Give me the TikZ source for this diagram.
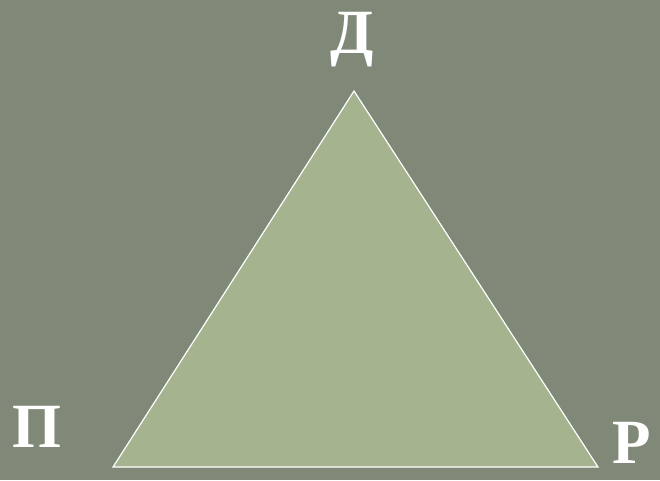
\documentclass[tikz,border=0pt]{standalone}
\usepackage{fontspec}
\setmainfont{Liberation Serif}
\usetikzlibrary{positioning}
\definecolor{boardgray}{HTML}{808878}
\definecolor{leafgreen}{HTML}{A5B48F}
\tikzset{
  vertexlabel/.style={text=white,font=\bfseries\fontsize{63}{63}\selectfont,inner sep=0pt,anchor=base}
}

\begin{document}
\begin{tikzpicture}[x=1pt,y=-1pt,line width=1.2pt]
\fill[boardgray] (0,0) rectangle (660,480);
\useasboundingbox (0,0) rectangle (660,480);
\coordinate (top) at (354,91);
\coordinate (left) at (113,467);
\coordinate (right) at (598,467);
\draw[fill=leafgreen,draw=white] (top) -- (left) -- (right) -- cycle;
\node[vertexlabel] (D) at (352,53) {Д};
\node[vertexlabel] (P) at (37,447) {П};
\node[vertexlabel] (R) at (632,463) {Р};
\end{tikzpicture}
\end{document}
